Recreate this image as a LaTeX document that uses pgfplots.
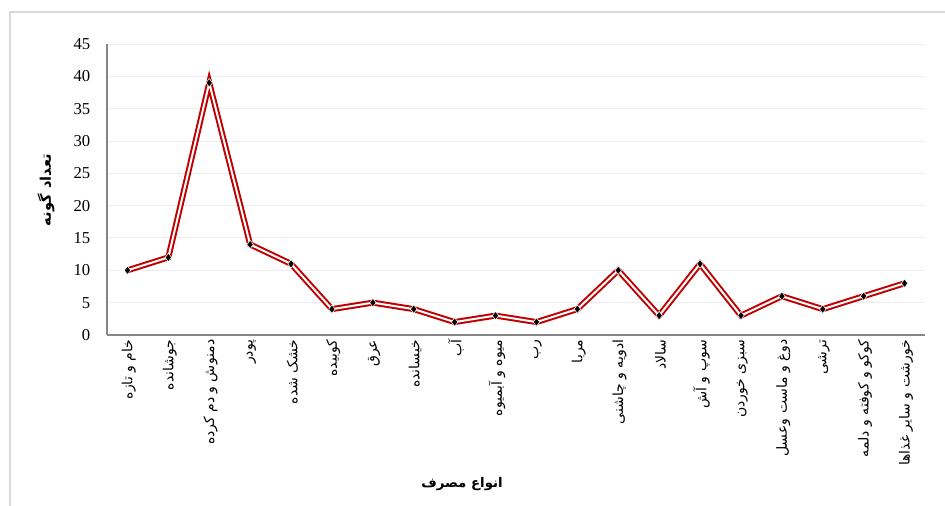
\documentclass[border=0pt]{standalone}
\usepackage{pgfplots}
\pgfplotsset{compat=1.18}
\usepackage{fontspec}
\setmainfont{Liberation Serif}
\newfontfamily\fa[Script=Arabic]{DejaVu Sans}
\TeXXeTstate=1

\definecolor{linered}{HTML}{C00000}
\definecolor{gridgray}{HTML}{EDEDED}
\definecolor{axisgray}{HTML}{868686}
\definecolor{framegray}{HTML}{D9D9D9}

\begin{document}
\begin{tikzpicture}
% page is 945x506 px, 1px = 0.75pt
\path[use as bounding box] (0,0) rectangle (708.75pt,379.5pt);
\draw[framegray, line width=1.5pt] (7.5pt,0) -- (7.5pt,370.5pt) -- (708.75pt,370.5pt);

\begin{axis}[
    at={(80.25pt,128.25pt)}, anchor=south west,
    scale only axis,
    width=613.5pt, height=218.25pt,
    xmin=-0.5, xmax=19.5,
    ymin=0, ymax=45,
    ytick={0,5,...,45},
    xtick={0,...,19},
    xticklabels={
      {\beginR خام و تازه\endR},
      {\beginR جوشانده\endR},
      {\beginR دمنوش و دم کرده\endR},
      {\beginR پودر\endR},
      {\beginR خشک شده\endR},
      {\beginR کوبیده\endR},
      {\beginR عرق\endR},
      {\beginR خیسانده\endR},
      {\beginR آب\endR},
      {\beginR میوه و آبمیوه\endR},
      {\beginR رب\endR},
      {\beginR مربا\endR},
      {\beginR ادویه و چاشنی\endR},
      {\beginR سالاد\endR},
      {\beginR سوپ و آش\endR},
      {\beginR سبزی خوردن\endR},
      {\beginR دوغ و ماست وعسل\endR},
      {\beginR ترشی\endR},
      {\beginR کوکو و کوفته و دلمه\endR},
      {\beginR خورشت و سایر غذاها\endR}},
    xticklabel style={rotate=90, anchor=east, font=\fa\fontsize{10.5}{12}\selectfont, yshift=-1pt},
    yticklabel style={font=\fontsize{12.5}{14}\selectfont, xshift=-9pt},
    /pgf/number format/assume math mode=true,
    major tick length=0pt,
    separate axis lines,
    axis x line*=bottom,
    axis y line*=left,
    axis line style={axisgray, line width=0.8pt},
    ymajorgrids=true,
    grid style={gridgray, line width=0.75pt},
    clip=false,
]
\addplot[draw=linered, line width=1.5pt, double=white, double distance=1.5pt, line join=miter]
    coordinates {
    (0,10) (1,12) (2,39) (3,14) (4,11) (5,4) (6,5) (7,4) (8,2) (9,3)
    (10,2) (11,4) (12,10) (13,3) (14,11) (15,3) (16,6) (17,4) (18,6) (19,8)
    };
\addplot[only marks, mark=diamond*, mark size=3.2pt, mark options={fill=black, draw=white, line width=0.4pt}]
    coordinates {
    (0,10) (1,12) (2,39) (3,14) (4,11) (5,4) (6,5) (7,4) (8,2) (9,3)
    (10,2) (11,4) (12,10) (13,3) (14,11) (15,3) (16,6) (17,4) (18,6) (19,8)
    };
\end{axis}

\node[rotate=90, font=\fa\bfseries\fontsize{11}{13}\selectfont] at (34.5pt,237pt) {\beginR تعداد گونه\endR};
\node[font=\fa\bfseries\fontsize{10}{12}\selectfont] at (346.5pt,16.5pt) {\beginR انواع مصرف\endR};
\end{tikzpicture}
\end{document}
